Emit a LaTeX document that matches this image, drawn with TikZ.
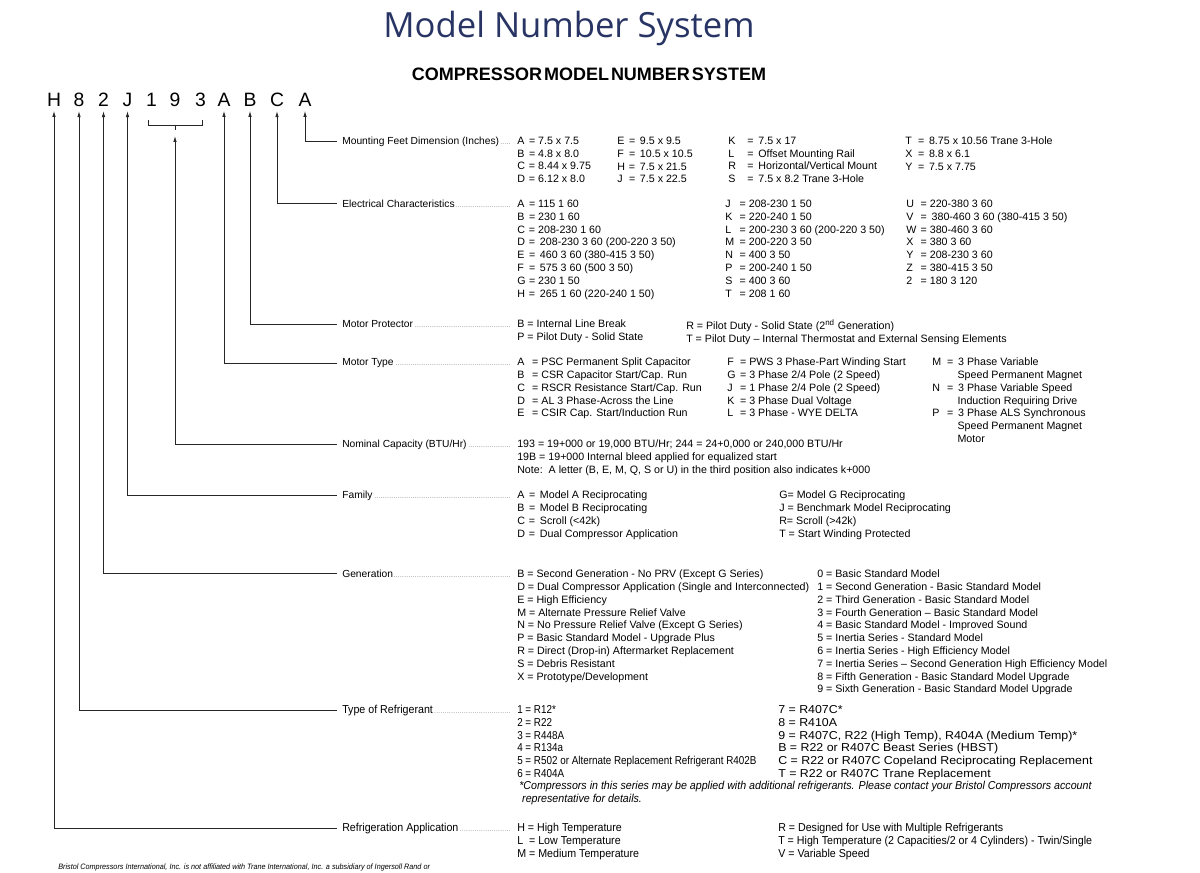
\documentclass[tikz,border=0pt]{standalone}
\usepackage{fontspec}
\setmainfont{Liberation Sans}
\newfontfamily\titlefont{Open Sans}
\newfontfamily\narrowfont[FakeStretch=0.93]{Liberation Sans}
\newfontfamily\tightfont[FakeStretch=0.86]{Liberation Sans}
\newfontfamily\widefont[FakeStretch=1.08]{Liberation Sans}
\usetikzlibrary{arrows.meta}

\definecolor{titleblue}{RGB}{40,52,100}

\newcommand\mainsz{\fontsize{8}{9.6}\selectfont}
\newcommand\lblsz{\fontsize{7.7}{9.6}\selectfont}
\newcommand\narrowsz{\narrowfont\fontsize{8.6}{9.6}\selectfont}
\newcommand\tightsz{\tightfont\fontsize{8.6}{9.6}\selectfont}
\newcommand\widesz{\widefont\fontsize{8.6}{9.6}\selectfont}
\newcommand\leaderdots{\leaders\hbox to 1.6pt{\hss\textcolor{black!55}{\fontsize{5}{5}\selectfont.}\hss}\hfill}
\newcommand\fieldtxt[1]{\makebox[127.5pt][l]{#1\leaderdots}}
\newcommand\ent[3][1.1em]{\makebox[#1][l]{#2}= #3}

\begin{document}
\begin{tikzpicture}[
  x=0.75pt, y=-0.75pt,
  >={Latex[length=4.5pt,width=2.6pt]},
  codechar/.style={font=\fontsize{14.5}{16}\selectfont, inner xsep=2pt, inner ysep=3pt},
  fieldlbl/.style={anchor=base west, inner xsep=3.75pt, inner ysep=1pt, font=\lblsz},
  vals/.style={anchor=north west, yshift=5.85pt, align=left, inner sep=0pt, font=\mainsz},
  narrowvals/.style={anchor=north west, yshift=6.2pt, align=left, inner sep=0pt, font=\narrowsz},
  conn/.style={->, draw=black!85, line width=0.6pt}
]

% ===== page frame =====
\fill[white] (0,0) rectangle (1200,873);
\useasboundingbox (0,0) rectangle (1200,873);

% ===== column x (px) =====
\def\xLbl{337}       % start of connector / label
\def\xVal{517}       % first value column

% ===== titles =====
\node[font=\titlefont\fontsize{26}{30}\selectfont, text=titleblue] (title) at (569,28) {Model Number System};
\node[font=\bfseries\fontsize{13.5}{15}\selectfont] (subtitle) at (589,74)
  {\spaceskip=1.5pt COMPRESSOR MODEL NUMBER SYSTEM};

% ===== model number characters =====
\node[codechar] (kH)  at (54,100)    {H};
\node[codechar] (k8)  at (79,100)    {8};
\node[codechar] (k2)  at (103.5,100) {2};
\node[codechar] (kJ)  at (127.5,100) {J};
\node[codechar] (k1)  at (151.5,100) {1};
\node[codechar] (k9)  at (175,100)   {9};
\node[codechar] (k3)  at (200.5,100) {3};
\node[codechar] (kA)  at (224,100)   {A};
\node[codechar] (kB)  at (250,100)   {B};
\node[codechar] (kC)  at (277,100)   {C};
\node[codechar] (kAA) at (305,100)   {A};

% bracket under 1 9 3
\draw[line width=0.6pt, draw=black!85] (148,120) -- (148,125) -- (202,125) -- (202,120);
\draw[line width=0.6pt, draw=black!85] (175,125) -- (175,130);
\coordinate (brk) at (175,136);

% ===== field labels =====
\node[fieldlbl] (lMount) at (\xLbl,144.5) {\fieldtxt{Mounting Feet Dimension (Inches)}};
\node[fieldlbl] (lElec)  at (\xLbl,207.5) {\fieldtxt{Electrical Characteristics}};
\node[fieldlbl] (lProt)  at (\xLbl,327.5) {\fieldtxt{Motor Protector}};
\node[fieldlbl] (lType)  at (\xLbl,365.5) {\fieldtxt{Motor Type}};
\node[fieldlbl] (lCap)   at (\xLbl,447.5) {\fieldtxt{Nominal Capacity (BTU/Hr)}};
\node[fieldlbl] (lFam)   at (\xLbl,498.5) {\fieldtxt{Family}};
\node[fieldlbl] (lGen)   at (\xLbl,577.5) {\fieldtxt{Generation}};
\node[fieldlbl, font=\narrowsz] (lRef) at (\xLbl,713.5) {\fieldtxt{Type of Refrigerant}};
\node[fieldlbl, font=\narrowsz] (lApp) at (\xLbl,831.5) {\fieldtxt{Refrigeration Application}};

% ===== connectors =====
\draw[conn] (lMount.west) -| (kAA);
\draw[conn] (lElec.west)  -| (kC);
\draw[conn] (lProt.west)  -| (kB);
\draw[conn] (lType.west)  -| (kA);
\draw[conn] (lCap.west)   -| (brk);
\draw[conn] (lFam.west)   -| (kJ);
\draw[conn] (lGen.west)   -| (k2);
\draw[conn] (lRef.west)   -| (k8);
\draw[conn] (lApp.west)   -| (kH);

% ===== mounting feet =====
\node[vals] (mt1) at (\xVal,144.5)
  {\ent{A}{7.5 x 7.5}\\ \ent{B}{4.8 x 8.0}\\ \ent{C}{8.44 x 9.75}\\ \ent{D}{6.12 x 8.0}};
\node[vals] (mt2) at (617,144.5)
  {\ent{E}{\,9.5 x 9.5}\\ \ent{F}{\,10.5 x 10.5}\\ \ent{H}{\,7.5 x 21.5}\\ \ent{J}{\,7.5 x 22.5}};
\node[vals] (mt3) at (728,144.5)
  {\ent[1.8em]{K}{\,7.5 x 17}\\ \ent[1.8em]{L}{\,Offset Mounting Rail}\\
   \ent[1.8em]{R}{\,Horizontal/Vertical Mount}\\ \ent[1.8em]{S}{\,7.5 x 8.2 Trane 3-Hole}};
\node[vals] (mt4) at (905,144.5)
  {\ent[1.2em]{T}{\,8.75 x 10.56 Trane 3-Hole}\\ \ent[1.2em]{X}{\,8.8 x 6.1}\\ \ent[1.2em]{Y}{\,7.5 x 7.75}};

% ===== electrical =====
\node[vals] (el1) at (\xVal,207.5)
  {\ent{A}{115 1 60}\\ \ent{B}{230 1 60}\\ \ent{C}{208-230 1 60}\\
   \ent{D}{\,208-230 3 60 (200-220 3 50)}\\ \ent{E}{\,460 3 60 (380-415 3 50)}\\
   \ent{F}{\,575 3 60 (500 3 50)}\\ \ent{G}{230 1 50}\\ \ent{H}{\,265 1 60 (220-240 1 50)}};
\node[vals] (el2) at (725,207.5)
  {\ent[1.35em]{J}{208-230 1 50}\\ \ent[1.35em]{K}{220-240 1 50}\\ \ent[1.35em]{L}{200-230 3 60 (200-220 3 50)}\\
   \ent[1.35em]{M}{200-220 3 50}\\ \ent[1.35em]{N}{400 3 50}\\ \ent[1.35em]{P}{200-240 1 50}\\
   \ent[1.35em]{S}{400 3 60}\\ \ent[1.35em]{T}{208 1 60}};
\node[vals] (el3) at (906,207.5)
  {\ent[1.35em]{U}{220-380 3 60}\\ \ent[1.35em]{V}{\,380-460 3 60 (380-415 3 50)}\\ \ent[1.35em]{W}{380-460 3 60}\\
   \ent[1.35em]{X}{380 3 60}\\ \ent[1.35em]{Y}{208-230 3 60}\\ \ent[1.35em]{Z}{380-415 3 50}\\
   \ent[1.35em]{2}{180 3 120}};

% ===== motor protector =====
\node[vals] (mp1) at (\xVal,327.5)
  {B = Internal Line Break\\ P = Pilot Duty - Solid State};
\node[vals] (mp2) at (686,327.5)
  {R = Pilot Duty - Solid State (2\textsuperscript{nd} Generation)\\
   T = Pilot Duty -- Internal Thermostat and External Sensing Elements};

% ===== motor type =====
\node[vals] (ty1) at (\xVal,365.5)
  {\ent[1.4em]{A}{PSC Permanent Split Capacitor}\\ \ent[1.4em]{B}{CSR Capacitor Start/Cap. Run}\\
   \ent[1.4em]{C}{RSCR Resistance Start/Cap. Run}\\ \ent[1.4em]{D}{AL 3 Phase-Across the Line}\\
   \ent[1.4em]{E}{CSIR Cap. Start/Induction Run}};
\node[vals] (ty2) at (727,365.5)
  {\ent[1.2em]{F}{PWS 3 Phase-Part Winding Start}\\ \ent[1.2em]{G}{3 Phase 2/4 Pole (2 Speed)}\\
   \ent[1.2em]{J}{1 Phase 2/4 Pole (2 Speed)}\\ \ent[1.2em]{K}{3 Phase Dual Voltage}\\
   \ent[1.2em]{L}{3 Phase - WYE DELTA}};
\node[vals] (ty3) at (932,365.5)
  {\ent[1.4em]{M}{\,3 Phase Variable}\\ \hspace*{19pt}Speed Permanent Magnet\\
   \ent[1.4em]{N}{\,3 Phase Variable Speed}\\ \hspace*{19pt}Induction Requiring Drive\\
   \ent[1.4em]{P}{\,3 Phase ALS Synchronous}\\ \hspace*{19pt}Speed Permanent Magnet\\
   \hspace*{19pt}Motor};

% ===== nominal capacity =====
\node[vals] (cp1) at (\xVal,447.5)
  {193 = 19+000 or 19,000 BTU/Hr; 244 = 24+0,000 or 240,000 BTU/Hr\\
   19B = 19+000 Internal bleed applied for equalized start\\
   Note:\ \ A letter (B, E, M, Q, S or U) in the third position also indicates k+000};

% ===== family =====
\node[vals] (fm1) at (\xVal,498.5)
  {\ent{A}{\,Model A Reciprocating}\\ \ent{B}{\,Model B Reciprocating}\\
   \ent{C}{\,Scroll (<42k)}\\ \ent{D}{\,Dual Compressor Application}};
\node[vals] (fm2) at (779,498.5)
  {G= Model G Reciprocating\\ J = Benchmark Model Reciprocating\\
   R= Scroll (>42k)\\ T = Start Winding Protected};

% ===== generation =====
\node[vals] (gn1) at (\xVal,577.5)
  {B = Second Generation - No PRV (Except G Series)\\
   D = Dual Compressor Application (Single and Interconnected)\\
   E = High Efficiency\\
   M = Alternate Pressure Relief Valve\\
   N = No Pressure Relief Valve (Except G Series)\\
   P = Basic Standard Model - Upgrade Plus\\
   R = Direct (Drop-in) Aftermarket Replacement\\
   S = Debris Resistant\\
   X = Prototype/Development};
\node[vals] (gn2) at (817,577.5)
  {0 = Basic Standard Model\\
   1 = Second Generation - Basic Standard Model\\
   2 = Third\ Generation - Basic Standard Model\\
   3 = Fourth Generation -- Basic Standard Model\\
   4 = Basic Standard Model - Improved Sound\\
   5 = Inertia Series - Standard Model\\
   6 = Inertia Series - High Efficiency Model\\
   7 = Inertia Series -- Second Generation High Efficiency Model\\
   8 = Fifth Generation - Basic Standard Model Upgrade\\
   9 = Sixth Generation - Basic Standard Model Upgrade};

% ===== refrigerant =====
\node[narrowvals, font=\tightsz] (rf1) at (\xVal,713.5)
  {1 = R12*\\ 2 = R22\\ 3 = R448A\\ 4 = R134a\\
   5 = R502 or Alternate Replacement Refrigerant R402B\\ 6 = R404A};
\node[narrowvals, font=\widesz] (rf2) at (778,713.5)
  {7 = R407C*\\ 8 = R410A\\ 9 = R407C, R22 (High Temp),\ R404A (Medium Temp)*\\
   B = R22 or R407C Beast Series (HBST)\\
   C = R22 or R407C Copeland Reciprocating Replacement\\
   T = R22 or R407C Trane Replacement};
\node[narrowvals, font=\narrowsz\itshape] (rfnote) at (519,789.5)
  {*Compressors in this series may be applied with additional refrigerants. Please contact your Bristol Compressors account\\
   \ representative for details.};

% ===== refrigeration application =====
\node[narrowvals] (ap1) at (\xVal,831.5)
  {H = High Temperature\\ L\ \ = Low Temperature\\ M = Medium Temperature};
\node[narrowvals] (ap2) at (778,831.5)
  {R = Designed for Use with Multiple Refrigerants\\
   T = High Temperature (2 Capacities/2 or 4 Cylinders) - Twin/Single\\
   V = Variable Speed};

% ===== footer =====
\node[anchor=base west, inner sep=0pt, font=\narrowfont\itshape\fontsize{5.85}{7}\selectfont] (footer) at (58,869)
  {Bristol Compressors International, Inc. is not affiliated with Trane International, Inc. a subsidiary of Ingersoll Rand or};

\end{tikzpicture}
\end{document}
